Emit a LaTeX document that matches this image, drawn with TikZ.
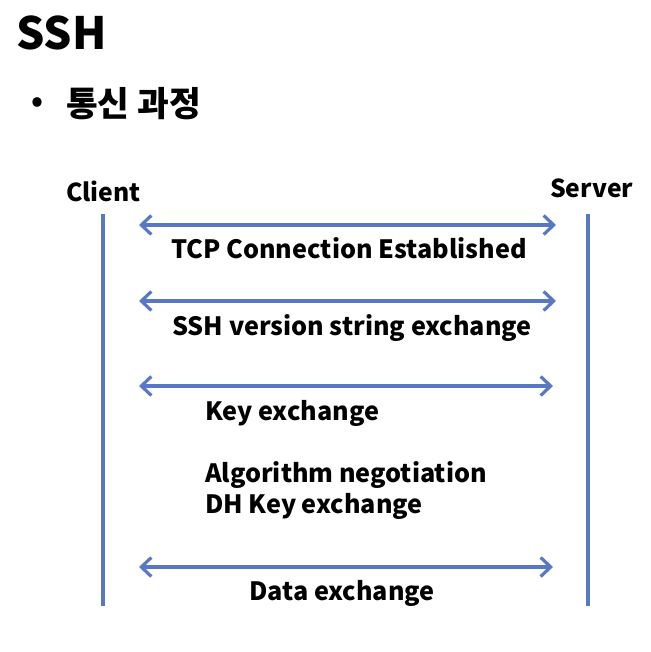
\documentclass[tikz,border=0pt]{standalone}
\usepackage{fontspec}
\setmainfont{Noto Sans CJK KR}
\usetikzlibrary{arrows.meta}
\definecolor{lineblue}{HTML}{5878C4}
\begin{document}
\begin{tikzpicture}[x=1pt,y=-1pt,
  txt/.style={inner sep=0pt,font=\bfseries\fontsize{25.2}{31}\selectfont},
  party/.style={inner sep=0pt,font=\bfseries\fontsize{24.7}{30}\selectfont,anchor=base west},
  life/.style={draw=lineblue,line width=3.5pt},
  msg/.style={draw=lineblue,line width=3.4pt,{Straight Barb[length=10pt,width=19pt,line width=3.2pt]}-{Straight Barb[length=10pt,width=19pt,line width=3.2pt]}}]
\useasboundingbox (0,0) rectangle (650,652);
\node[inner sep=0pt,anchor=base west,font=\bfseries\fontsize{44.5}{50}\selectfont] (title) at (16,50) {SSH};
\node[inner sep=0pt,anchor=center,font=\bfseries\fontsize{30}{34}\selectfont] (bullet) at (37,105) {•};
\node[inner sep=0pt,anchor=base west,font=\bfseries\fontsize{34.5}{38}\selectfont] (topic) at (66,117) {통신 과정};
\node[party] (client) at (66,202) {Client};
\node[party] (server) at (550,197) {Server};
\coordinate (ctop) at (103,214); \coordinate (cbot) at (103,606);
\coordinate (stop) at (588,214); \coordinate (sbot) at (588,606);
\draw[life] (ctop) -- (cbot);
\draw[life] (stop) -- (sbot);
\coordinate (a1l) at (139,225); \coordinate (a1r) at (556,225);
\coordinate (a2l) at (139,301); \coordinate (a2r) at (556,301);
\coordinate (a3l) at (139,386); \coordinate (a3r) at (553,386);
\coordinate (a4l) at (139,567); \coordinate (a4r) at (553,567);
\draw[msg] (a1l) -- (a1r);
\draw[msg] (a2l) -- (a2r);
\draw[msg] (a3l) -- (a3r);
\draw[msg] (a4l) -- (a4r);
\node[txt,anchor=base] (l1) at (349,258) {TCP Connection Established};
\node[txt,anchor=base] (l2) at (352,335) {SSH version string exchange};
\node[txt,anchor=base west] (l3) at (205,420) {Key exchange};
\node[txt,anchor=base west] (l4) at (205,482) {Algorithm negotiation};
\node[txt,anchor=base west] (l5) at (205,513) {DH Key exchange};
\node[txt,anchor=base] (l6) at (342,600) {Data exchange};
\end{tikzpicture}
\end{document}
